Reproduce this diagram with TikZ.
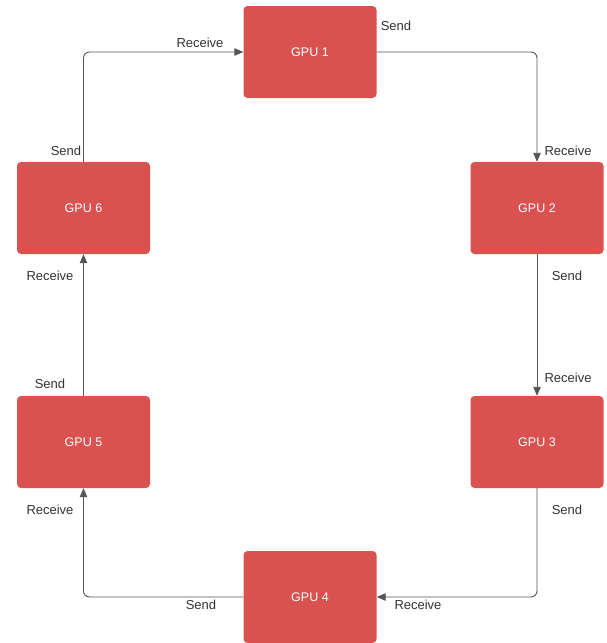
\documentclass[tikz,border=0pt]{standalone}
\usepackage{fontspec}
\setmainfont{Liberation Sans}
\usetikzlibrary{arrows.meta}
\definecolor{gpured}{RGB}{217,82,80}
\definecolor{linegray}{RGB}{85,85,85}
\definecolor{labelgray}{RGB}{50,50,50}
\begin{document}
\begin{tikzpicture}[x=1pt,y=-1pt,
  gpu/.style={fill=gpured,draw=none,rounded corners=4pt,minimum width=133pt,minimum height=92pt,inner sep=0pt,text=white,font=\fontsize{12.5}{14}\selectfont},
  lbl/.style={text=labelgray,font=\fontsize{13}{15}\selectfont,inner sep=0pt},
  link/.style={draw=linegray,line width=0.9pt,rounded corners=6pt,-{Triangle[length=9pt,width=7.5pt]}}]
\useasboundingbox (0,0) rectangle (606,643);
\node[gpu] (g1) at (310,52) {GPU 1};
\node[gpu] (g2) at (537,208) {GPU 2};
\node[gpu] (g3) at (537,442) {GPU 3};
\node[gpu] (g4) at (310,597) {GPU 4};
\node[gpu] (g5) at (83.5,442) {GPU 5};
\node[gpu] (g6) at (83.5,208) {GPU 6};
\draw[link] (g1.east) -| (g2.north);
\draw[link] (g2.south) -- (g3.north);
\draw[link] (g3.south) |- (g4.east);
\draw[link] (g4.west) -| (g5.south);
\draw[link] (g5.north) -- (g6.south);
\draw[link] (g6.north) |- (g1.west);
\node[lbl] (s1) at (396,26) {Send};
\node[lbl] (r1) at (200,43) {Receive};
\node[lbl] (r2) at (568,151) {Receive};
\node[lbl] (s2) at (567,276) {Send};
\node[lbl] (r3) at (568,378) {Receive};
\node[lbl] (s3) at (567,510) {Send};
\node[lbl] (r4) at (418,605) {Receive};
\node[lbl] (s4) at (201,605) {Send};
\node[lbl] (r5) at (50,510) {Receive};
\node[lbl] (s5) at (50,384) {Send};
\node[lbl] (r6) at (50,276) {Receive};
\node[lbl] (s6) at (66,151) {Send};
\end{tikzpicture}
\end{document}
